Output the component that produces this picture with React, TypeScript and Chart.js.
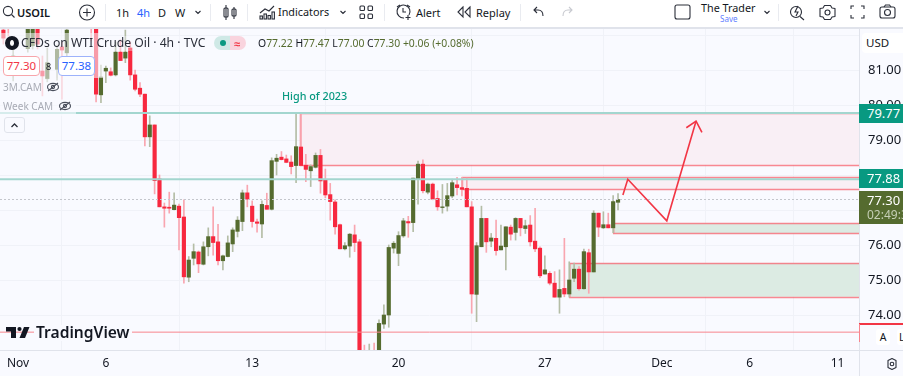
import React, { useEffect, useRef } from "react";
import { Chart, registerables } from "chart.js";

Chart.register(...registerables);

const opens = [82.14,82.25,81.1,82.4,82.4,81.61,81.69,82.2,80.97,80.75,82.4,81.02,81.66,81.49,82.4,82.5,82.6,82.5,82.3,82.25,80.29,80.97,80.95,80.86,81.51,81.34,81.63,80.86,80.48,80.31,79.09,79.43,77.89,77.09,77.08,77.01,77.11,76.8,75.08,75.62,75.8,75.45,75.95,76.24,76.09,75.55,75.67,76.03,76.39,76.67,77.49,77.11,76.66,76.6,77.13,77.02,78.39,78.51,78.46,78.37,78.27,78.8,78.28,78.12,78.22,78.56,77.85,77.44,77.23,76.58,75.89,75.97,76.29,76.09,72.75,72.75,72.8,72.8,73.74,74,75.91,75.76,76.26,76.67,76.64,77.89,78.31,77.51,77.74,77.33,77.07,77.11,77.4,77.72,77.64,77.62,77.09,74.59,75.95,76.76,76.11,76.19,75.86,75.95,76.51,76.36,76.76,76.47,76.57,76.11,75.91,75.17,75.19,74.91,74.51,74.76,74.6,75.05,75.31,74.75,75.78,75.23,76.91,76.49,76.58,76.49,77.22];
const highs = [82.3,82.4,81.6,82.5,82.5,82.4,82.3,82.3,81.4,81.63,82.5,81.71,81.8,82.3,82.5,82.6,82.7,82.6,82.5,82.4,81.14,81.11,81.06,81.8,81.86,82.14,81.8,81,80.64,80.31,79.69,79.43,78,77.2,77.51,77.49,77.17,77.29,75.67,76.03,75.83,76.09,76.49,77.09,76.59,75.71,76.26,76.49,76.81,77.57,77.71,77.26,76.74,77.26,77.48,78.49,78.59,78.67,78.57,78.55,79.76,79.76,78.59,78.29,78.63,78.73,78.17,77.76,77.29,76.6,76.07,76.33,76.57,76.16,73.14,73.17,73.2,73.86,74.29,76,76.1,76.38,76.76,76.82,77.91,78.4,78.43,77.77,77.77,77.55,77.73,77.76,77.88,77.93,77.93,77.91,77.24,76.07,77.11,76.76,76.33,76.71,76.57,76.52,76.57,76.78,76.76,76.71,76.84,77.05,75.95,75.69,75.24,75.24,75.29,76.19,75.52,75.48,75.38,75.88,75.88,76.98,76.91,76.95,76.91,77.41,77.47];
const lows = [81.74,81.97,80.69,82.35,82.35,81.51,81.6,81.6,80.26,80.66,82.35,80.71,80.17,81.4,82.35,82.45,82.55,82.45,81.83,80.09,80.07,80.64,80.83,80.83,81.27,81.21,80.71,80.4,80.24,78.83,78.81,77.46,77.09,76.51,76.91,77,75.86,74.91,74.95,75.43,75.21,75.43,75.69,75.71,75.43,75.29,75.66,75.81,76.23,76.41,77.09,76.51,76.37,76.21,77.02,77,78,78.43,78.35,78.03,77.78,78.27,77.81,77.67,78.2,77.48,77.35,76.71,76.31,75.89,75.86,75.65,75.81,72.6,72.6,72.6,72.6,72.7,73.62,73.65,75.77,75.41,76.22,76.22,76.38,77.17,77.49,77.46,77.29,76.99,76.91,76.97,77.35,77.43,77.4,77.09,74.05,73.81,75.95,75.79,75.95,75.71,75.86,75.29,76.14,76.14,76.26,76.33,75.97,75.81,75.07,75.17,74.86,74.51,74.05,74.52,74.51,74.95,74.71,74.74,74.62,75.23,76.24,76.47,76.49,76.35,77];
const closes = [81.91,82.2,81.4,82.45,82.45,82.2,82.2,81.74,80.83,81.21,82.45,81.59,81.57,82.14,82.45,82.55,82.65,82.55,82.25,80.31,80.8,81.05,80.85,81.51,81.27,81.51,80.86,80.45,80.31,79.09,79.43,77.84,77.09,77.05,77.05,77.14,76.78,75.09,75.57,75.81,75.46,75.95,76.24,76.07,75.55,75.69,76.06,76.43,76.71,77.49,77.31,76.67,76.62,77.16,77.02,78.41,78.48,78.44,78.36,78.24,78.81,78.27,78.16,78.24,78.56,77.83,77.43,77.24,76.52,75.89,75.98,76.31,76.07,72.7,72.7,72.8,72.78,73.76,74,75.93,76.05,76.27,76.69,76.63,77.91,78.31,77.55,77.74,77.31,77.09,77.09,77.41,77.78,77.64,77.59,77.09,74.6,75.98,76.76,76.09,76.2,75.84,75.97,76.52,76.31,76.76,76.49,76.55,76.09,75.89,75.12,75.29,74.91,74.51,74.73,74.6,75,75.31,74.75,75.81,75.23,76.91,76.51,76.58,76.49,77.24,77.3];

const dateTickIndex = [3, 21, 51, 81, 111, 135, 153, 171];
const dateTickLabels = ["Nov", "6", "13", "20", "27", "Dec", "6", "11"];

const highOf2023 = 79.77;
const resistance = 77.88;
const lastPrice = 77.3;
const lowLine = 73.51;

const zoneLeft = [60.8, 94, 125, 116];
const zoneTop = [79.77, 77.93, 76.62, 75.48];
const zoneBottom = [78.29, 77.59, 76.33, 74.52];
const zoneFill = ["#f9eff5", "#f9eff5", "#dcebe3", "#dcebe3"];

const arrowX = [127, 128, 136, 142];
const arrowY = [77.43, 77.88, 76.69, 79.54];
const headX = [140, 142, 143.2];
const headY = [79.35, 79.54, 79.22];

const BG = "#f9faff";
const UP = "#556b2f";
const DOWN = "#f7283f";
const UPW = "#b4bda6";
const DOWNW = "#f9a6b0";
const FONT = '"Noto Sans", sans-serif';
const X_MIN = -0.697;
const X_MAX = 175.4;

const T = ({ x, y, s, c = "#131722", w = 400, center = false, children }: any) => (
  <span
    style={{
      position: "absolute",
      left: x,
      top: y,
      transform: center ? "translate(-50%,-50%)" : "translateY(-50%)",
      fontSize: s,
      color: c,
      fontWeight: w,
      whiteSpace: "nowrap",
      lineHeight: 1,
    }}
  >
    {children}
  </span>
);

const Box = ({ x, y, w, h, style }: any) => (
  <div style={{ position: "absolute", left: x, top: y, width: w, height: h, boxSizing: "border-box", ...style }} />
);

const Badge = ({ x, y, w, h, bg, c, children }: any) => (
  <div
    style={{
      position: "absolute",
      left: x,
      top: y,
      width: w,
      height: h,
      background: bg,
      color: c,
      fontSize: 13,
      lineHeight: h + "px",
      paddingLeft: 8,
      boxSizing: "border-box",
      overflow: "hidden",
      whiteSpace: "nowrap",
    }}
  >
    {children}
  </div>
);

const Outline = ({ x, y, w, b, c, children }: any) => (
  <div
    style={{
      position: "absolute",
      left: x,
      top: y,
      width: w,
      height: 20,
      background: "#fff",
      border: "1px solid " + b,
      borderRadius: 4,
      boxSizing: "border-box",
      color: c,
      fontSize: 11.5,
      lineHeight: "18px",
      textAlign: "center",
    }}
  >
    {children}
  </div>
);

const IC = "#2a2e39";

const Icons = () => (
  <svg width="903" height="376" style={{ position: "absolute", left: 0, top: 0, pointerEvents: "none" }} fill="none" stroke={IC} strokeWidth="1.1">
    {/* search */}
    <circle cx="8" cy="11" r="4.6" />
    <path d="M11.5 14.5l3 3" />
    {/* plus */}
    <circle cx="87" cy="12.5" r="7.5" />
    <path d="M87 8.5v8M83 12.5h8" />
    {/* chevrons */}
    <path d="M195.5 11l2.5 2.5 2.5-2.5M340.5 11l2.5 2.5 2.5-2.5M764.5 11l2.5 2.5 2.5-2.5" />
    {/* candles icon */}
    <path d="M226 5v15M234 7v12" />
    <rect x="224" y="8" width="4" height="9" rx="1" />
    <rect x="232" y="9" width="4" height="7" rx="1" />
    {/* indicators */}
    <path d="M260 13l5-4 4 2 5-5" />
    <rect x="260" y="16" width="2.4" height="3" />
    <rect x="264" y="14" width="2.4" height="5" />
    <rect x="268" y="15.5" width="2.4" height="3.5" />
    <rect x="272" y="12" width="2.4" height="7" />
    {/* layouts */}
    <rect x="360" y="6" width="4.5" height="4.5" rx="1" />
    <rect x="368" y="6" width="4.5" height="4.5" rx="1" />
    <rect x="360" y="14" width="4.5" height="4.5" rx="1" />
    <rect x="368" y="14" width="4.5" height="4.5" rx="1" />
    {/* alarm */}
    <path d="M409 15a6.5 6.5 0 1 0-5 3" />
    <path d="M403 8v4h3M397 7l3-2M407 5l3 2M408 15v5M405.500 17.500h5" />
    {/* replay */}
    <path d="M463 7l-5 5 5 5zM470 7l-5 5 5 5z" />
    {/* undo redo */}
    <path d="M543 16c0-4-2-6-5-6h-4M537 7l-3 3 3 3" />
    <path d="M563 16c0-4 2-6 5-6h4M569 7l3 3-3 3" stroke="#c8cad0" />
    {/* rectangle */}
    <rect x="675" y="5" width="15" height="14" rx="2" />
    {/* right icons */}
    <circle cx="796" cy="12" r="5.500" />
    <path d="M800 16.500l4 3.500M798 6l-3 6h3l-2 4" />
    <circle cx="827.500" cy="12.500" r="2.500" />
    <path d="M824.500 5.500h6l1.500 2.500 3 .5 0 8-3 .5-1.500 2.500h-6l-1.500-2.500-3-.5 0-8 3-.5z" strokeLinejoin="round" />
    <path d="M851 9v-3h3M861 6h3v3M851 15v3h3M861 18h3v-3" />
    <rect x="880" y="7" width="15" height="11" rx="2" />
    <circle cx="887.500" cy="12.500" r="3" />
    <path d="M884 7l1.500-2h4L891 7" />
    {/* legend eye */}
    <g stroke="#4a4f5c">
      <ellipse cx="53" cy="87" rx="5.500" ry="3.600" />
      <circle cx="53" cy="87" r="1.600" />
      <path d="M48 91l10-8" />
      <ellipse cx="65" cy="106" rx="5.500" ry="3.600" />
      <circle cx="65" cy="106" r="1.600" />
      <path d="M60 110l10-8" />
    </g>
    {/* collapse */}
    <path d="M11.500 127l3-3 3 3" strokeWidth="1.300" />
    {/* bottom gear */}
    <circle cx="892" cy="364" r="1.800" />
    <path d="M888 360.500l4-2 4 2v7l-4 2-4-2z" strokeLinejoin="round" />
    {/* logo */}
    <g fill="#131722" stroke="none">
      <path d="M6 327h10v11h-5v-6.500H6z" />
      <circle cx="19.500" cy="329" r="2.100" />
      <path d="M24 327h5.500l-4.500 11h-5.500z" />
    </g>
  </svg>
);

export default function App() {
  const ref = useRef<HTMLCanvasElement>(null);

  useEffect(() => {
    const ctx = ref.current;
    if (!ctx) return;

    const wickData = lows.map((l, i) => ({ x: i, y: [l, highs[i]] }));
    const bodyData = opens.map((o, i) => ({ x: i, y: [o, closes[i]] }));
    const isUp = opens.map((o, i) => closes[i] >= o);

    const hLine = (v: number, color: string, width: number, dash: number[] = []) => ({
      type: "line",
      data: [
        { x: X_MIN, y: v },
        { x: X_MAX, y: v },
      ],
      borderColor: color,
      borderWidth: width,
      borderDash: dash,
      pointRadius: 0,
      order: 1,
    });

    const zonesPlugin = {
      id: "zones",
      beforeDatasetsDraw(chart: any) {
        const { ctx: c, scales, chartArea } = chart;
        c.save();
        zoneLeft.forEach((l, i) => {
          const x0 = scales.x.getPixelForValue(l);
          const y0 = scales.y.getPixelForValue(zoneTop[i]);
          const y1 = scales.y.getPixelForValue(zoneBottom[i]);
          c.fillStyle = zoneFill[i];
          c.fillRect(x0, y0, chartArea.right - x0, y1 - y0);
          c.strokeStyle = "#f7626e";
          c.globalAlpha = 0.75;
          c.lineWidth = 1.5;
          c.beginPath();
          c.moveTo(chartArea.right, Math.round(y0) + 0.5);
          c.lineTo(x0 + 0.5, Math.round(y0) + 0.5);
          c.lineTo(x0 + 0.5, Math.round(y1) + 0.5);
          c.lineTo(chartArea.right, Math.round(y1) + 0.5);
          c.stroke();
          c.globalAlpha = 1;
        });
        c.restore();
      },
    };

    const chart = new Chart(ctx, {
      type: "bar",
      data: {
        datasets: [
          {
            data: wickData,
            backgroundColor: isUp.map((u) => (u ? UPW : DOWNW)),
            barThickness: 1,
            grouped: false,
            order: 3,
          },
          {
            data: bodyData,
            backgroundColor: isUp.map((u) => (u ? UP : DOWN)),
            barThickness: 3.5,
            grouped: false,
            order: 2,
          },
          hLine(lastPrice, "#c4c6cc", 1, [2, 2]),
          hLine(highOf2023, "#a3d6cf", 2),
          hLine(resistance, "#a3d6cf", 2),
          hLine(lowLine, "#f8858d", 1),
          {
            type: "line",
            data: arrowX.map((x, i) => ({ x, y: arrowY[i] })),
            borderColor: "#f23645",
            borderWidth: 1.6,
            pointRadius: 0,
            order: 0,
          },
          {
            type: "line",
            data: headX.map((x, i) => ({ x, y: headY[i] })),
            borderColor: "#f23645",
            borderWidth: 1.6,
            pointRadius: 0,
            order: 0,
          },
        ] as any,
      },
      plugins: [zonesPlugin],
      options: {
        animation: false,
        responsive: false,
        maintainAspectRatio: false,
        layout: { padding: { top: 28, left: 0, right: 0, bottom: 0 } },
        plugins: { legend: { display: false }, tooltip: { enabled: false } },
        scales: {
          x: {
            type: "linear",
            min: X_MIN,
            max: X_MAX,
            offset: false,
            afterBuildTicks: (axis: any) => {
              axis.ticks = dateTickIndex.map((value) => ({ value }));
            },
            afterFit: (axis: any) => {
              axis.height = 26;
            },
            grid: { color: "#f0f2f8", drawTicks: false },
            border: { color: "#e0e3eb" },
            ticks: {
              autoSkip: false,
              maxRotation: 0,
              padding: 6,
              color: "#131722",
              font: { family: FONT, size: 12 },
              callback: (v: any) => dateTickLabels[dateTickIndex.indexOf(Number(v))] ?? "",
            },
          },
          y: {
            position: "right",
            min: 73,
            max: 82.2,
            afterFit: (axis: any) => {
              axis.width = 44;
            },
            grid: { color: "#f0f2f8", drawTicks: false },
            border: { color: "#e0e3eb" },
            ticks: {
              stepSize: 1,
              includeBounds: false,
              padding: 9,
              color: "#131722",
              font: { family: FONT, size: 13 },
              callback: (v: any) => (v === 82 || v === 73 ? "" : Number(v).toFixed(2)),
            },
          },
        },
      } as any,
    });
    return () => chart.destroy();
  }, []);

  return (
    <div style={{ position: "fixed", left: 0, top: 0, width: 903, height: 376, overflow: "hidden", background: BG, fontFamily: FONT }}>
      <canvas ref={ref} width={903} height={376} style={{ position: "absolute", left: 0, top: 0, display: "block" }} />

      {/* faded legend zones */}
      <Box x={0} y={33} w={103} h={45} style={{ background: "rgba(249,250,255,0.55)" }} />
      <Box x={0} y={78} w={76} h={38} style={{ background: "rgba(249,250,255,0.6)" }} />
      <Box x={103} y={36} w={100} h={15} style={{ background: "rgba(249,250,255,0.35)" }} />

      {/* toolbar */}
      <Box x={0} y={0} w={903} h={27} style={{ background: "#fff" }} />
      <Box x={0} y={27} w={903} h={2} style={{ background: "#e0e3eb" }} />
      {[105, 210, 247, 384, 520, 778].map((x) => (
        <Box key={x} x={x} y={4} w={1} h={17} style={{ background: "#e9ebf0" }} />
      ))}
      <T x={17} y={12} s={11} w={600}>USOIL</T>
      <T x={116} y={12} s={11}>1h</T>
      <T x={137} y={12} s={11} c="#2962ff">4h</T>
      <T x={158} y={12} s={11}>D</T>
      <T x={175} y={12} s={11}>W</T>
      <T x={278} y={12} s={10.8}>Indicators</T>
      <T x={416} y={12} s={11}>Alert</T>
      <T x={476} y={12} s={11}>Replay</T>
      <T x={701} y={8} s={10.8}>The Trader</T>
      <T x={720} y={19} s={8} c="#5f80ff">Save</T>

      {/* axis frame */}
      <Box x={859} y={350} w={1} h={26} style={{ background: "#e0e3eb" }} />
      <Box x={860} y={350} w={43} h={1} style={{ background: "#e0e3eb" }} />
      <div style={{ position: "absolute", left: 862, top: 33, width: 45, height: 20, background: "#fff", borderRadius: 4, fontSize: 11.5, lineHeight: "20px", paddingLeft: 4, boxSizing: "border-box", color: "#131722" }}>USD</div>

      {/* price badges */}
      <Badge x={859} y={104} w={44} h={19} bg="#089981" c="#fff">79.77</Badge>
      <Badge x={859} y={169} w={44} h={19} bg="#089981" c="#fff">77.88</Badge>
      <Box x={859} y={191} w={44} h={33} style={{ background: UP }} />
      <T x={867} y={200} s={13} c="#fff">77.30</T>
      <div style={{ position: "absolute", left: 867, top: 208, width: 36, overflow: "hidden", fontSize: 12, lineHeight: "14px", color: "#c6cfb6", whiteSpace: "nowrap" }}>02:49:38</div>

      {/* legend */}
      <T x={21} y={43} s={12.2} c="#2a2e39">CFDs on WTI Crude Oil · 4h · TVC</T>
      <Box x={5} y={36} w={14} h={14} style={{ background: "#131722", borderRadius: "50%" }} />
      <Box x={10} y={40} w={4} h={6} style={{ background: "#fff", borderRadius: "50% 50% 50% 50% / 60% 60% 40% 40%" }} />
      <Box x={214} y={36} w={16} h={14} style={{ background: "#cfe9e6", borderRadius: "7px 0 0 7px" }} />
      <Box x={230} y={36} w={16} h={14} style={{ background: "#f9d4de", borderRadius: "0 7px 7px 0" }} />
      <Box x={220} y={40} w={6} h={6} style={{ background: "#089981", borderRadius: "50%" }} />
      <T x={234} y={43} s={11} c="#f23645" w={700}>≈</T>
      <T x={258} y={43} s={10.4} c={UP}>
        <span style={{ color: "#131722" }}>O</span>77.22 <span style={{ color: "#131722" }}>H</span>77.47{" "}
        <span style={{ color: "#131722" }}>L</span>77.00 <span style={{ color: "#131722" }}>C</span>77.30 +0.06 (+0.08%)
      </T>
      <Outline x={3} y={56} w={37} b="#f7a5ab" c="#f23645">77.30</Outline>
      <T x={46} y={66} s={9}>8</T>
      <Outline x={58} y={56} w={37} b="#9db2fb" c="#2962ff">77.38</Outline>
      <T x={3} y={87} s={10} c="#a8abb5">3M.CAM</T>
      <T x={3} y={106} s={10} c="#a8abb5">Week CAM</T>
      <Box x={4} y={117} w={21} h={16} style={{ background: BG, border: "1px solid #e0e3eb", borderRadius: 3 }} />

      <T x={282} y={96} s={10.8} c="#089981" w={500}>High of 2023</T>

      {/* TradingView logo halo and word */}
      <Box x={34} y={325} w={98} h={16} style={{ background: BG }} />
      <T x={36} y={332.5} s={15.6} w={600}>TradingView</T>

      {/* bottom right */}
      <Box x={859} y={323} w={44} h={2} style={{ background: "#f23645" }} />
      <Box x={859} y={324} w={1} h={18} style={{ background: "#f8858d" }} />
      <div style={{ position: "absolute", left: 876, top: 329, width: 14, height: 16, background: "#fff", borderRadius: 3, fontSize: 10.500, lineHeight: "16px", textAlign: "center", color: "#131722" }}>A</div>
      <div style={{ position: "absolute", left: 897, top: 329, width: 14, height: 16, background: "#fff", borderRadius: 3, fontSize: 10.500, lineHeight: "16px", paddingLeft: 2, color: "#131722" }}>L</div>

      <Icons />
    </div>
  );
}
